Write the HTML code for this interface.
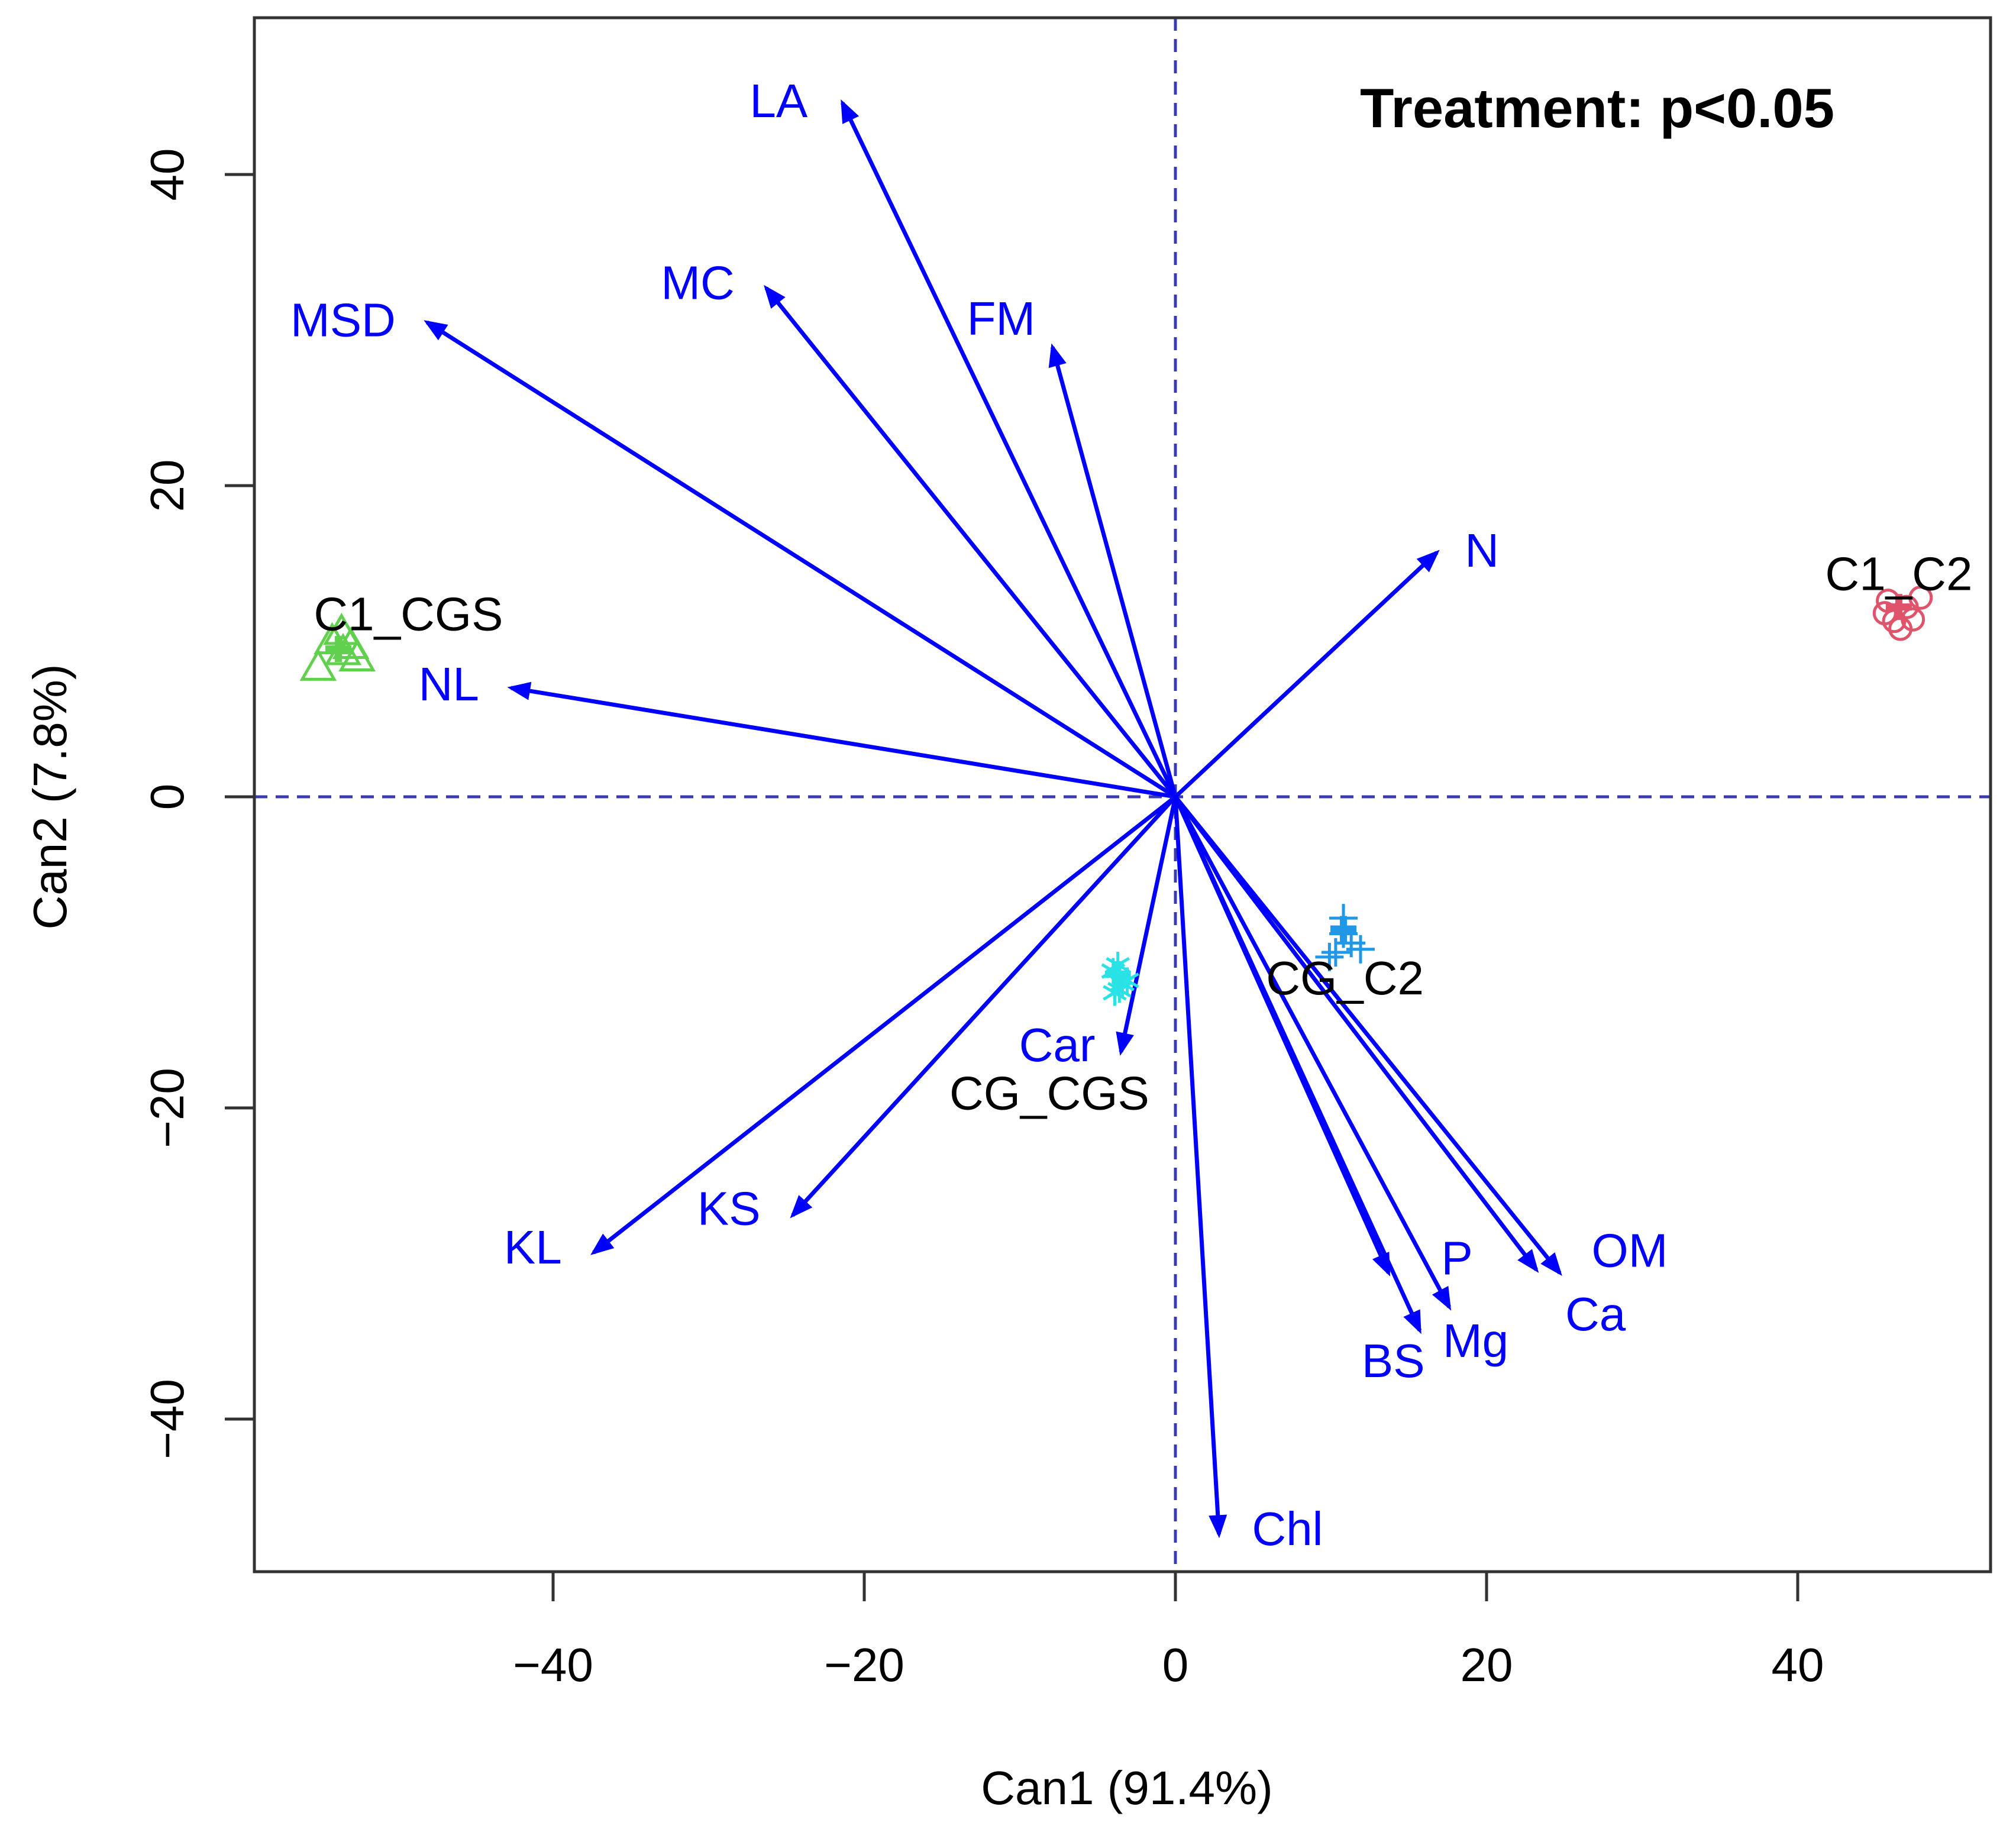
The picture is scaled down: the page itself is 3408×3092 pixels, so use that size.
<!DOCTYPE html>
<html><head><meta charset="utf-8"><style>
html,body{margin:0;padding:0;background:#fff;}
svg{display:block;font-family:"Liberation Sans",sans-serif;}
</style></head><body>
<svg id="chart" width="3408" height="3092" viewBox="0 0 3408 3092" xmlns="http://www.w3.org/2000/svg">
<rect x="0" y="0" width="3408" height="3092" fill="#fff"/>
<g id="axes"></g>
<g id="marks"></g>
<text x="2700" y="215" font-size="94" font-weight="bold" text-anchor="middle" fill="#000">Treatment: p&lt;0.05</text>
<text x="1905" y="3050" font-size="80" text-anchor="middle" fill="#000">Can1 (91.4%)</text>
<text x="0" y="0" font-size="80" text-anchor="middle" fill="#000" transform="translate(112,1347) rotate(-90)">Can2 (7.8%)</text>
</svg>
<script>
const xTicks = [-40, -20, 0, 20, 40];
const yTicks = [-40, -20, 0, 20, 40];
const varNames = ["LA","MC","MSD","FM","N","NL","KL","KS","Car","Chl","P","Mg","BS","Ca","OM"];
const varX = [-21.4,-26.3,-48.1,-7.9,16.8,-42.7,-37.4,-24.6,-3.5,2.8,13.7,17.6,15.7,23.2,24.7];
const varY = [44.6,32.7,30.5,28.9,15.7,7.0,-29.3,-26.9,-16.4,-47.4,-30.6,-32.8,-34.3,-30.4,-30.6];
const labX = [-25.5,-30.7,-53.5,-11.2,19.7,-46.7,-41.3,-28.7,-7.6,7.2,18.1,19.3,14.0,27.0,29.2];
const labY = [44.8,33.1,30.7,30.8,15.9,7.3,-28.9,-26.4,-15.9,-47.0,-29.6,-34.9,-36.2,-33.2,-29.1];
const groupNames = ["C1_CGS","C1_C2","CG_C2","CG_CGS"];
const groupX = [-53.8,46.5,10.8,-3.7];
const groupY = [9.5,12.2,-8.5,-11.4];
const groupLabX = [-49.3,46.5,10.9,-8.1];
const groupLabY = [11.8,14.4,-11.6,-19.0];
const pts0X = [-53.6,-55.1,-52.6,-53.0,-54.2,-53.5];
const pts0Y = [10.5,8.2,8.8,9.6,9.9,9.2];
const pts1X = [45.8,47.9,46.2,47.4,46.6,45.6,47.0];
const pts1Y = [12.6,12.8,11.3,11.4,10.8,11.8,12.2];
const pts2X = [10.8,11.3,10.3,11.9,9.9,10.8];
const pts2Y = [-7.8,-9.4,-10.0,-9.8,-10.3,-8.8];
const pts3X = [-3.7,-3.4,-3.9,-3.1,-4.0,-3.6];
const pts3Y = [-10.8,-12.0,-12.6,-11.8,-11.2,-12.4];

const OX = 1987, OY = 1347, U = 26.3;
const sx = v => OX + v * U;
const sy = v => OY - v * U;
const NS = "http://www.w3.org/2000/svg";
const axes = document.getElementById('axes');
const marks = document.getElementById('marks');
function mk(tag, attrs, parent, text) {
  const e = document.createElementNS(NS, tag);
  for (const k in attrs) e.setAttribute(k, attrs[k]);
  if (text !== undefined) e.textContent = text;
  parent.appendChild(e);
  return e;
}
const L = 430, R = 3365, T = 30, B = 2657;
let e = mk('line', {x1: L, y1: sy(0), x2: R, y2: sy(0), stroke: '#3b3bb0', 'stroke-width': 5, 'stroke-dasharray': '22 14'}, axes);


e = mk('line', {x1: sx(0), y1: T, x2: sx(0), y2: B, stroke: '#3b3bb0', 'stroke-width': 5, 'stroke-dasharray': '22 14'}, axes);


e = mk('rect', {x: L, y: T, width: R - L, height: B - T, fill: 'none', stroke: '#333', 'stroke-width': 5}, axes);


xTicks.forEach(t => {
  const g = mk('g', {}, axes);
  
  
  mk('line', {x1: sx(t), y1: B, x2: sx(t), y2: B + 50, stroke: '#333', 'stroke-width': 5}, g);
  mk('text', {x: sx(t), y: B + 185, 'font-size': 80, 'text-anchor': 'middle', fill: '#000'}, g, t < 0 ? '\u2212' + Math.abs(t) : String(t));
});
yTicks.forEach(t => {
  const g = mk('g', {}, axes);
  
  
  mk('line', {x1: L - 50, y1: sy(t), x2: L, y2: sy(t), stroke: '#333', 'stroke-width': 5}, g);
  mk('text', {x: 0, y: 0, 'font-size': 80, 'text-anchor': 'middle', fill: '#000', transform: 'translate(310,' + sy(t) + ') rotate(-90)'}, g, t < 0 ? '\u2212' + Math.abs(t) : String(t));
});
varNames.forEach((n, i) => {
  const g = mk('g', {}, marks);
  
  
  const x2 = sx(varX[i]), y2 = sy(varY[i]);
  mk('line', {x1: OX, y1: OY, x2: x2, y2: y2, stroke: '#0000ff', 'stroke-width': 7}, g);
  const a = Math.atan2(y2 - OY, x2 - OX), len = 32, w = 0.38;
  const p1 = [x2 - len * Math.cos(a - w), y2 - len * Math.sin(a - w)];
  const p2 = [x2 - len * Math.cos(a + w), y2 - len * Math.sin(a + w)];
  mk('polygon', {points: `${x2},${y2} ${p1} ${p2}`, fill: '#0000ff', stroke: '#0000ff', 'stroke-width': 5}, g);
  const t = mk('text', {x: sx(labX[i]), y: sy(labY[i]) + 29, 'font-size': 80, 'text-anchor': 'middle', fill: '#0000ff'}, g, n);
  
  
});
const colors = ['#61D04F', '#DF536B', '#2297E6', '#28E2E5'];
const ptsX = [pts0X, pts1X, pts2X, pts3X], ptsY = [pts0Y, pts1Y, pts2Y, pts3Y];
function marker(kind, x, y, c, g) {
  if (kind === 0) mk('polygon', {points: `${x},${y - 30} ${x - 27},${y + 17} ${x + 27},${y + 17}`, fill: 'none', stroke: c, 'stroke-width': 5}, g);
  else if (kind === 1) mk('circle', {cx: x, cy: y, r: 18, fill: 'none', stroke: c, 'stroke-width': 5}, g);
  else if (kind === 2) { mk('line', {x1: x - 24, y1: y, x2: x + 24, y2: y, stroke: c, 'stroke-width': 5}, g); mk('line', {x1: x, y1: y - 24, x2: x, y2: y + 24, stroke: c, 'stroke-width': 5}, g); }
  else { for (let k = 0; k < 3; k++) { const a = k * Math.PI / 3 + Math.PI / 2; mk('line', {x1: x - 22 * Math.cos(a), y1: y - 22 * Math.sin(a), x2: x + 22 * Math.cos(a), y2: y + 22 * Math.sin(a), stroke: c, 'stroke-width': 5}, g); } }
}
groupNames.forEach((n, i) => {
  const g = mk('g', {}, marks);
  
  
  ptsX[i].forEach((px, j) => marker(i, sx(px), sy(ptsY[i][j]), colors[i], g));
  const cx = sx(groupX[i]), cy = sy(groupY[i]);
  mk('line', {x1: cx - 22, y1: cy, x2: cx + 22, y2: cy, stroke: colors[i], 'stroke-width': 12}, g);
  mk('line', {x1: cx, y1: cy - 22, x2: cx, y2: cy + 22, stroke: colors[i], 'stroke-width': 12}, g);
  const t = mk('text', {x: sx(groupLabX[i]), y: sy(groupLabY[i]) + 29, 'font-size': 80, 'text-anchor': 'middle', fill: '#000'}, g, n);
  
  
});
</script>
</body></html>
